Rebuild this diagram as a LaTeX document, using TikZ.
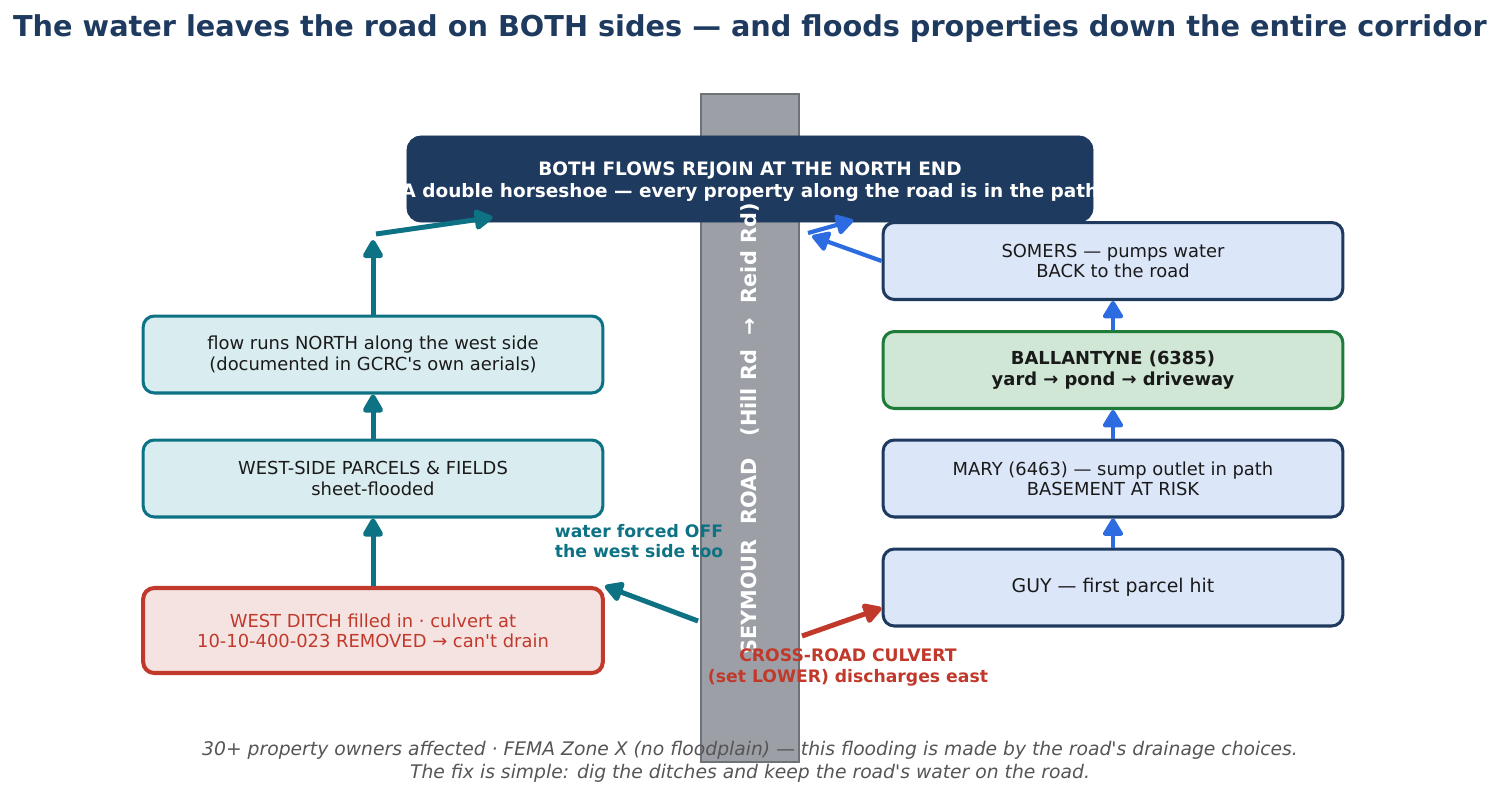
\documentclass[tikz,border=0pt]{standalone}
\usepackage{fontspec}
\setmainfont{DejaVu Sans}[Ligatures=TeXOff]
\usepackage{xcolor}
\usepackage{tikz}
\usetikzlibrary{positioning, calc, arrows.meta}
\definecolor{navy}{HTML}{1F3A5F}
\definecolor{creek}{HTML}{0E7285}
\definecolor{creekfill}{HTML}{D9ECF0}
\definecolor{rust}{HTML}{C0392B}
\definecolor{rustfill}{HTML}{F5E3E2}
\definecolor{cobalt}{HTML}{2C6BE0}
\definecolor{skyfill}{HTML}{DCE6F9}
\definecolor{moss}{HTML}{1E7B3A}
\definecolor{mossfill}{HTML}{CFE7D4}
\definecolor{asphalt}{HTML}{9CA0A6}
\definecolor{kerb}{HTML}{6E7379}
\definecolor{ink}{HTML}{1A1A1A}
\definecolor{stone}{HTML}{555555}

\begin{document}
\begin{tikzpicture}[x=0.72pt, y=-0.72pt,
  parcel/.style={rounded corners=8pt, minimum width=331pt, minimum height=55.4pt,
                 align=center, text=ink, line width=2.2pt,
                 font=\fontsize{12.9}{14.6}\selectfont},
  westparcel/.style={parcel, draw=creek, fill=creekfill},
  eastparcel/.style={parcel, draw=navy, fill=skyfill},
  flow/.style={line width=3.6pt, -{Triangle[length=15pt, width=16pt, round]}},
  eastflow/.style={line width=3pt, cobalt, -{Triangle[length=14pt, width=16pt, round]}},
  note/.style={font=\bfseries\fontsize{12.4}{14.6}\selectfont}
]
  \useasboundingbox (0,0) rectangle (1500,808);

  \node[font=\bfseries\fontsize{20.7}{24}\selectfont, text=navy] (title) at (750,29)
    {The water leaves the road on BOTH sides — and floods properties down the entire corridor};

  % the road itself
  \node[draw=kerb, fill=asphalt, line width=1.2pt, minimum width=70.6pt,
        minimum height=481pt, inner sep=0pt] (road) at (750,428) {};

  \node[draw=navy, fill=navy, rounded corners=10pt, minimum width=494pt,
        minimum height=62pt, inner xsep=-12pt, align=center, text=white,
        font=\bfseries\fontsize{13.3}{15.8}\selectfont] (rejoin) at (750,179) {
    \rule{0pt}{14pt}BOTH FLOWS REJOIN AT THE NORTH END\\
    A double horseshoe — every property along the road is in the path
  };

  % west side
  \node[westparcel] (northflow) at (373,354.5)
    {flow runs NORTH along the west side\\(documented in GCRC's own aerials)};
  \node[westparcel] (parcels) at (373,478.5)
    {WEST-SIDE PARCELS \& FIELDS\\sheet-flooded};
  \node[parcel, draw=rust, fill=rustfill, text=rust, line width=2.9pt,
        minimum height=61.2pt] (ditch) at (373,630.5)
    {WEST DITCH filled in · culvert at\\10-10-400-023 REMOVED → can't drain};

  % east side
  \node[eastparcel] (somers) at (1113,261)
    {SOMERS — pumps water\\BACK to the road};
  \node[parcel, draw=moss, fill=mossfill, font=\bfseries\fontsize{12.9}{14.6}\selectfont]
    (ballantyne) at (1113,370) {BALLANTYNE (6385)\\yard → pond → driveway};
  \node[eastparcel] (mary) at (1113,478.5)
    {MARY (6463) — sump outlet in path\\BASEMENT AT RISK};
  \node[eastparcel, font=\fontsize{13.6}{15}\selectfont] (guy) at (1113,587.5)
    {GUY — first parcel hit};

  \coordinate (westspill) at (698,621);
  \coordinate (eastspill) at (802,636);
  \coordinate (westtop) at (373,240);
  \coordinate (westbend) at (376,234);
  \coordinate (eastreturn) at (812,236);
  \coordinate (eastrise) at (808,233);

  % flows
  \draw[flow, creek] (westspill) -- (ditch.north east);
  \draw[flow, creek] (ditch) -- (parcels);
  \draw[flow, creek] (parcels) -- (northflow);
  \draw[flow, creek] (northflow) -- (westtop);
  \draw[flow, creek] (westbend) -- ([shift={(86,-5)}]rejoin.south west);
  \draw[flow, rust] (eastspill) -- ([yshift=14pt]guy.south west);
  \draw[eastflow] (guy) -- (mary);
  \draw[eastflow] (mary) -- (ballantyne);
  \draw[eastflow] (ballantyne) -- (somers);
  \draw[eastflow] (somers.west) -- (eastreturn);
  \draw[eastflow] (eastrise) -- ([shift={(-240,-2)}]rejoin.south east);

  \node[rotate=90, text=white, font=\bfseries\fontsize{15}{17}\selectfont] (roadname)
    at (750,429) {SEYMOUR\ \ ROAD\ \ \ (Hill Rd\ \ →\ \ Reid Rd)};

  \node[note, text=creek, align=left, anchor=west] (westnote) at (550,541)
    {water forced OFF\\the west side too};
  \node[note, text=rust, align=center, font=\bfseries\fontsize{12.4}{15.1}\selectfont]
    (culvertnote) at (848,667) {CROSS-ROAD CULVERT\\(set LOWER) discharges east};

  \node[font=\itshape\fontsize{13.5}{16.6}\selectfont, text=stone, align=center] (footer)
    at (750,762) {30+ property owners affected · FEMA Zone X (no floodplain) — this flooding is made by the road's drainage choices.\\
    The fix is simple: dig the ditches and keep the road's water on the road.};
\end{tikzpicture}
\end{document}
